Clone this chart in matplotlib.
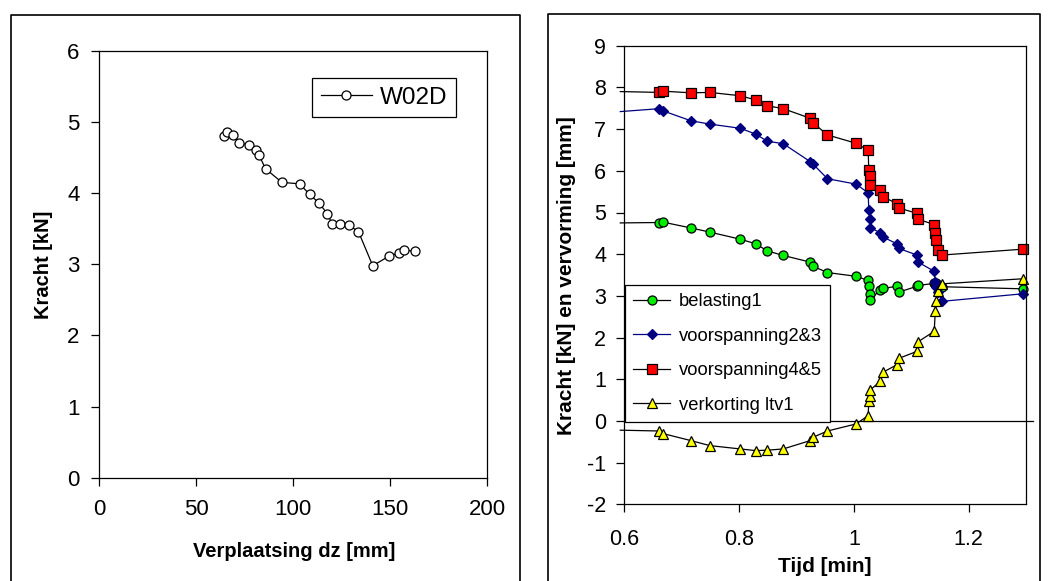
import matplotlib
matplotlib.use("Agg")
import matplotlib.pyplot as plt
from matplotlib.lines import Line2D
from matplotlib.ticker import FuncFormatter

plt.rcParams["font.family"] = ["Liberation Sans", "DejaVu Sans"]
plt.rcParams["axes.unicode_minus"] = False

# --- left chart: W02D, force vs displacement ---
dz_mm = [64.6, 66.0, 69.1, 72.3, 77.3, 80.9, 82.5, 85.9, 94.3, 103.4, 108.6,
         113.4, 117.7, 120.1, 124.4, 128.7, 133.7, 141.1, 149.3, 154.5, 157.2, 162.9]
kracht_kn = [4.80, 4.86, 4.81, 4.71, 4.67, 4.60, 4.53, 4.34, 4.15, 4.13, 3.98,
             3.86, 3.71, 3.57, 3.57, 3.55, 3.46, 2.98, 3.11, 3.16, 3.20, 3.18]
left_xticks = [0, 50, 100, 150, 200]
left_yticks = [0, 1, 2, 3, 4, 5, 6]

# --- right chart: force and deformation vs time ---
# first entry is where the lines enter from the left edge (no marker there)
tijd_min = [0.593, 0.661, 0.667, 0.716, 0.749, 0.802, 0.829, 0.849, 0.877, 0.924,
            0.929, 0.954, 1.004, 1.025, 1.026, 1.028, 1.029, 1.046, 1.051, 1.075,
            1.078, 1.110, 1.112, 1.140, 1.142, 1.144, 1.146, 1.154, 1.294]
belasting1 = [4.75, 4.76, 4.77, 4.63, 4.53, 4.36, 4.25, 4.08, 3.97, 3.81, 3.71,
              3.56, 3.47, 3.37, 3.23, 3.05, 2.91, 3.15, 3.18, 3.23, 3.09, 3.23,
              3.25, 3.30, 3.32, 3.31, 3.27, 3.22, 3.17]
voorspanning23 = [7.42, 7.49, 7.44, 7.20, 7.12, 7.02, 6.88, 6.71, 6.65, 6.22, 6.16,
                  5.81, 5.68, 5.47, 5.07, 4.84, 4.64, 4.51, 4.41, 4.25, 4.14, 3.98,
                  3.81, 3.59, 3.33, 3.22, 3.10, 2.87, 3.05]
voorspanning45 = [7.90, 7.88, 7.91, 7.87, 7.88, 7.80, 7.70, 7.56, 7.49, 7.26, 7.15,
                  6.86, 6.66, 6.49, 6.01, 5.87, 5.67, 5.53, 5.38, 5.21, 5.11, 4.98,
                  4.84, 4.71, 4.50, 4.33, 4.09, 3.98, 4.12]
verkorting_ltv1 = [-0.22, -0.24, -0.30, -0.47, -0.59, -0.67, -0.71, -0.70, -0.67,
                   -0.47, -0.39, -0.24, -0.07, 0.13, 0.47, 0.59, 0.75, 0.95, 1.17,
                   1.35, 1.50, 1.67, 1.90, 2.15, 2.64, 2.88, 3.12, 3.29, 3.41]
series_labels = ["belasting1", "voorspanning2&3", "voorspanning4&5", "verkorting ltv1"]
right_xticks = [0.6, 0.8, 1.0, 1.2]
right_yticks = list(range(-2, 10))

W, H = 1053, 581
fig = plt.figure(figsize=(W / 100, H / 100), dpi=100)

# outer frames around both charts (bottom edges run off the picture)
for x0, x1, top in [(11, 519.5, 14.8), (548.3, 1040, 13.7)]:
    xs = [x0 / W, x0 / W, x1 / W, x1 / W]
    ys = [-0.02, 1 - top / H, 1 - top / H, -0.02]
    fig.add_artist(Line2D(xs, ys, transform=fig.transFigure, color="black", lw=1.2))

# left chart
ax1 = fig.add_axes([99 / W, 1 - 477.8 / H, 388 / W, 427.1 / H])
ax1.plot(dz_mm, kracht_kn, color="black", lw=0.9, marker="o", ms=6.5,
         mfc="white", mec="black", mew=0.9, label="W02D")
ax1.set_xlim(0, 200)
ax1.set_ylim(0, 6)
ax1.set_xticks(left_xticks)
ax1.set_yticks(left_yticks)
ax1.tick_params(direction="out", length=6, width=0.9, labelsize=16)
ax1.tick_params(axis="x", pad=9)
ax1.tick_params(axis="y", pad=8)
for sp in ax1.spines.values():
    sp.set_linewidth(0.9)
ax1.set_xlabel("Verplaatsing dz [mm]", fontsize=14.5, fontweight="bold", va="center")
ax1.set_ylabel("Kracht [kN]", fontsize=14.5, fontweight="bold", va="center")
ax1.xaxis.set_label_coords(0.5026, -0.1735)
ax1.yaxis.set_label_coords(-0.144, 0.499)
leg1 = ax1.legend(loc="upper left", bbox_to_anchor=(312 / W, 1 - 78 / H),
                  bbox_transform=fig.transFigure, fontsize=17.5, fancybox=False,
                  edgecolor="black", framealpha=1, borderpad=0.35, handlelength=2.1,
                  handletextpad=0.35, borderaxespad=0)
leg1.get_frame().set_linewidth(0.9)

# right chart
ax2 = fig.add_axes([624.3 / W, 1 - 504.4 / H, 401.7 / W, 458.7 / H])
ax2.axhline(0, xmin=0, xmax=1.017, color="black", lw=0.9, clip_on=False, zorder=1.5)
styles = [
    dict(color="black", marker="o", ms=6.5, mfc="#00ee00", mec="black"),
    dict(color="#000080", marker="D", ms=5.5, mfc="#000080", mec="#000080"),
    dict(color="black", marker="s", ms=6.5, mfc="#ff0000", mec="black"),
    dict(color="black", marker="^", ms=7.5, mfc="#ffff00", mec="black"),
]
for values, label, st in zip([belasting1, voorspanning23, voorspanning45, verkorting_ltv1],
                             series_labels, styles):
    ax2.plot(tijd_min, values, lw=0.9, mew=0.9, label=label,
             markevery=slice(1, None), clip_on=False, **st)
ax2.set_xlim(0.6, 1.3)
ax2.set_ylim(-2, 9)
ax2.set_xticks(right_xticks)
ax2.set_yticks(right_yticks)
ax2.xaxis.set_major_formatter(FuncFormatter(lambda v, p: f"{v:g}"))
ax2.tick_params(direction="out", width=0.9, labelsize=15.5)
ax2.tick_params(axis="x", length=6, pad=12)
ax2.tick_params(axis="y", length=5.5, pad=7.5)
for sp in ax2.spines.values():
    sp.set_linewidth(0.9)
ax2.set_xlabel("Tijd [min]", fontsize=15, fontweight="bold", va="center")
ax2.set_ylabel("Kracht [kN] en vervorming [mm]", fontsize=15, fontweight="bold",
               va="center")
ax2.xaxis.set_label_coords(0.4996, -0.136)
ax2.yaxis.set_label_coords(-0.143, 0.498)
leg2 = ax2.legend(loc="upper left", bbox_to_anchor=(625 / W, 1 - 285 / H),
                  bbox_transform=fig.transFigure, fontsize=13.2, fancybox=False,
                  edgecolor="black", framealpha=1, borderpad=0.45, labelspacing=0.95,
                  handlelength=2.0, handletextpad=0.5, borderaxespad=0)
leg2.get_frame().set_linewidth(0.9)
leg2.set_zorder(5)

fig.savefig("out.png", dpi=100)
